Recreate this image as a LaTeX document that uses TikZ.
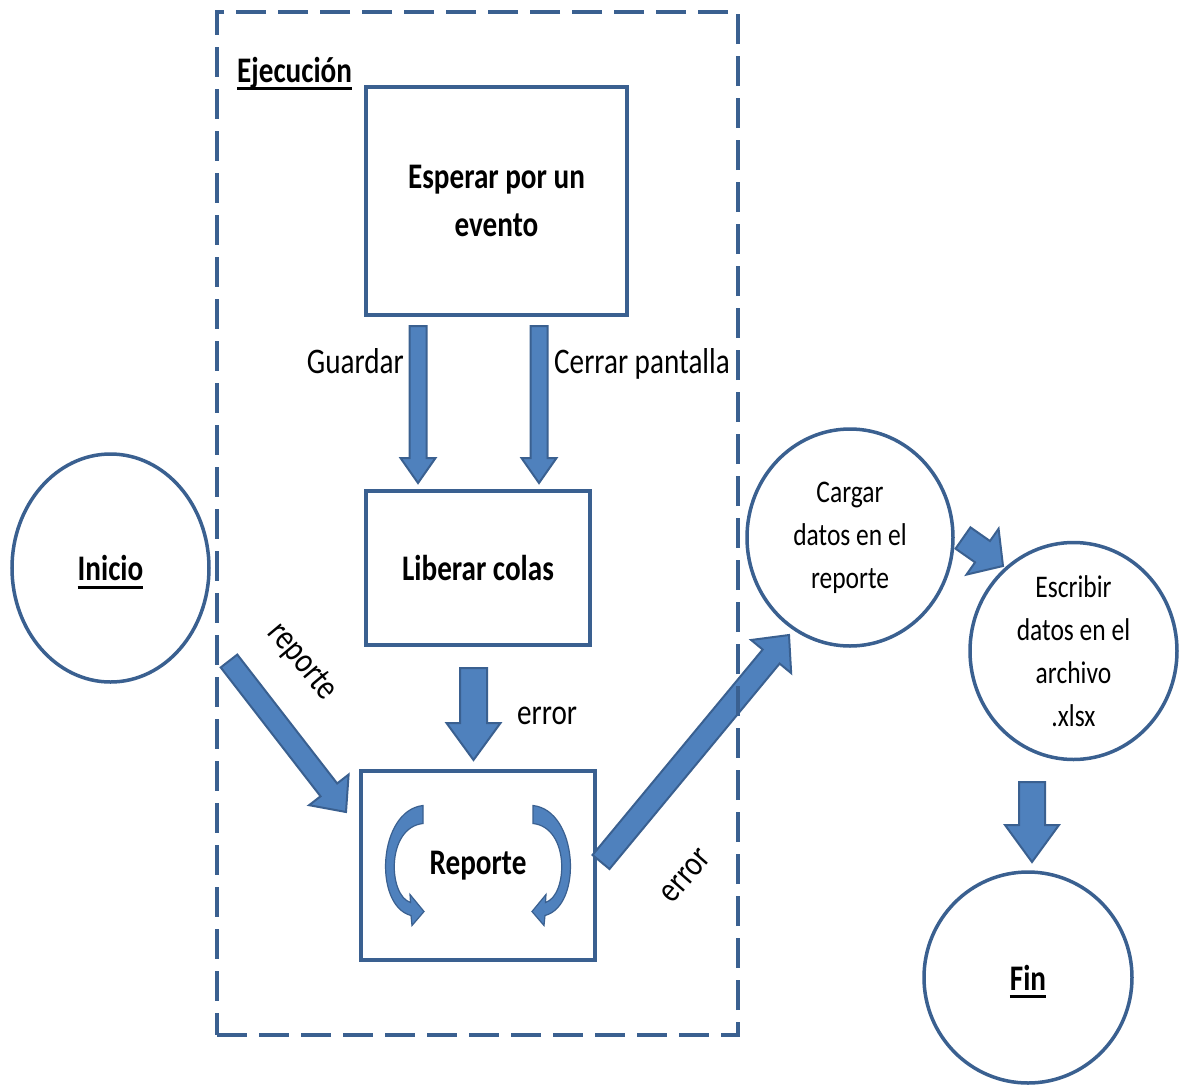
\documentclass[tikz,border=0pt]{standalone}
\usepackage{fontspec}
\setmainfont{Carlito}[FakeStretch=0.81]
\usetikzlibrary{calc,shapes.geometric}

\definecolor{boxblue}{HTML}{3A6090}
\definecolor{arrfill}{HTML}{4F81BD}

% underline with a thick rule
\newcommand{\ulbold}[1]{\setbox0\hbox{#1}\rlap{\rule[-8pt]{\wd0}{3pt}}\box0}

% block arrow: tail, tip, shaft half width, head half width, head length
\newcommand{\blockarr}[5]{%
  \coordinate (ba-h) at ($(#2)!#5!(#1)$);
  \draw[blockarrow] ($(#1)!#3!90:(#2)$) -- ($(ba-h)!#3!-90:(#1)$)
    -- ($(ba-h)!#4!-90:(#1)$) -- (#2) -- ($(ba-h)!#4!90:(#1)$)
    -- ($(ba-h)!#3!90:(#1)$) -- ($(#1)!#3!-90:(#2)$) -- cycle;}

% curved arrow inside the Reporte box
\newcommand{\turnarrow}{%
  \draw[blockarrow, line width=1.2pt]
    (-55,-60) .. controls (-100,-55) and (-105,40) .. (-67,50)
    -- (-66,60) -- (-54,46) -- (-68,29) -- (-67.5,37)
    .. controls (-90,30) and (-92,-38) .. (-55,-42) -- cycle;}

\begin{document}
\begin{tikzpicture}[x=1pt, y=-1pt,
  box/.style={draw=boxblue, line width=3.2pt, fill=white, inner sep=0pt,
              align=center, font=\bfseries\fontsize{36}{48}\selectfont},
  circ/.style={ellipse, draw=boxblue, line width=3.5pt, fill=white,
               inner sep=0pt, align=center},
  lbl/.style={font=\fontsize{36}{44}\selectfont, inner sep=0pt},
  blockarrow/.style={fill=arrfill, draw=boxblue, line width=2pt,
                     line join=miter},
  frame/.style={draw=boxblue, line width=3.2pt, dash pattern=on 30pt off 12pt,
                inner sep=0pt},
]
  \useasboundingbox (0,0) rectangle (1179,1085);

  % boxes of the execution part
  \node[box, minimum width=261, minimum height=228] (esperar) at (496.5,201)
       {Esperar por un\\evento};
  \node[box, minimum width=224, minimum height=154] (liberar) at (478,568)
       {Liberar colas};
  \node[box, minimum width=234, minimum height=189] (rep) at (478,865.5)
       {Reporte};

  % start and end states
  \node[circ, minimum width=197, minimum height=228, text depth=0pt,
        font=\bfseries\fontsize{36}{44}\selectfont] (inicio) at (110.5,568)
       {\ulbold{Inicio}};
  \node[circ, minimum width=206, minimum height=217,
        font=\fontsize{31.5}{43}\selectfont] (cargar) at (850,537.5)
       {Cargar\\datos en el\\reporte};
  \node[circ, minimum width=207, minimum height=217,
        font=\fontsize{31.5}{43}\selectfont] (escribir) at (1073.5,651)
       {Escribir\\datos en el\\archivo\\.xlsx};
  \node[circ, minimum width=208, minimum height=211, text depth=0pt,
        font=\bfseries\fontsize{36}{44}\selectfont] (fin) at (1028,977.5)
       {\ulbold{Fin}};

  % arrows
  \coordinate (gA) at (418,326);    \coordinate (gB) at (418,483);
  \coordinate (cA) at (539,326);    \coordinate (cB) at (539,483);
  \coordinate (eA) at (473.5,668);  \coordinate (eB) at (473.5,760);
  \coordinate (rA) at (229,661);    \coordinate (rB) at (346,812);
  \coordinate (xA) at (601,862);    \coordinate (xB) at (789,635);
  \coordinate (sA) at (963,538);    \coordinate (sB) at (1003,566);
  \coordinate (fA) at (1032,782);   \coordinate (fB) at (1032,862);

  \blockarr{gA}{gB}{8.5pt}{17.5pt}{25pt}
  \blockarr{cA}{cB}{8.5pt}{17.5pt}{25pt}
  \blockarr{eA}{eB}{13.5pt}{27pt}{37pt}
  \blockarr{rA}{rB}{10.5pt}{25pt}{28pt}
  \blockarr{xA}{xB}{11pt}{26pt}{28pt}
  \blockarr{sA}{sB}{13pt}{28pt}{25pt}
  \blockarr{fA}{fB}{13pt}{27pt}{37pt}

  \begin{scope}[shift={(rep.center)}]
    \turnarrow
  \end{scope}
  \begin{scope}[shift={(rep.center)}, xscale=-1]
    \turnarrow
  \end{scope}

  % labels
  \node[lbl, anchor=base east] (guardar) at (404,373) {Guardar};
  \node[lbl, anchor=base west] (cerrar) at (554,373) {Cerrar pantalla};
  \node[lbl, anchor=base west] (err1) at (517,724) {error};
  \node[lbl, rotate=-50] (lblrep) at (302,662) {reporte};
  \node[lbl, rotate=49] (err2) at (686,876) {error};

  % dashed frame
  \node[frame, minimum width=521, minimum height=1023] (ejec) at (477.5,523.5) {};
  \node[lbl, font=\bfseries\fontsize{36}{44}\selectfont, anchor=base west]
       (ejectit) at (237,82) {\ulbold{Ejecución}};
\end{tikzpicture}
\end{document}
